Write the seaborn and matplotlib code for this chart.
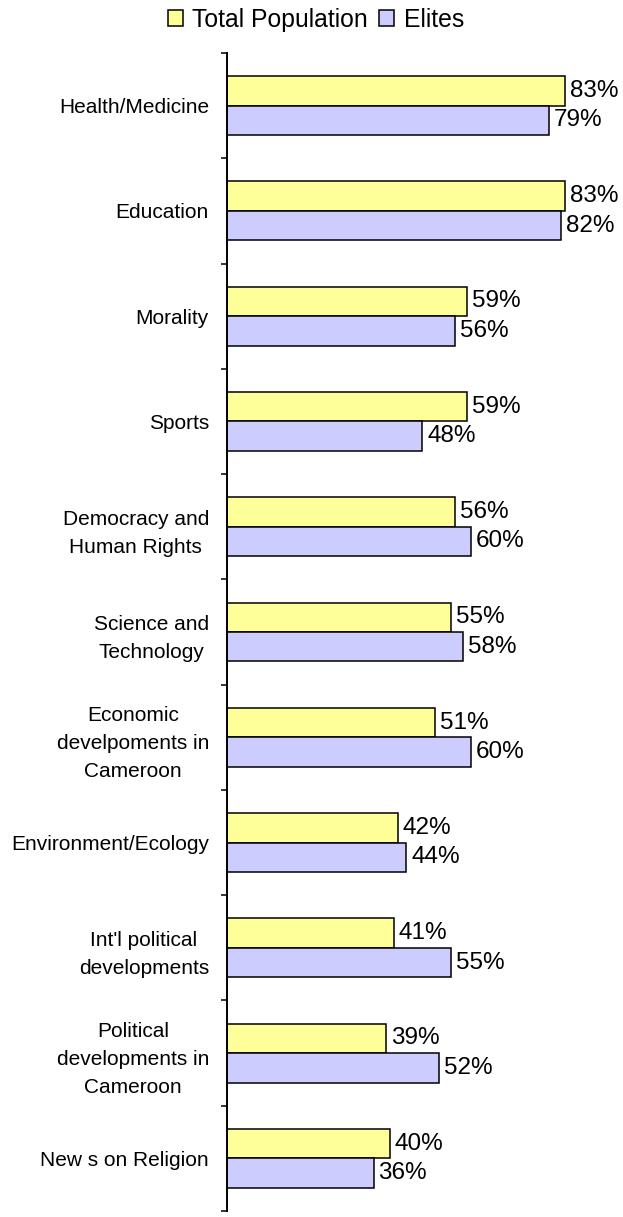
import matplotlib
matplotlib.use("Agg")
import matplotlib.pyplot as plt
import seaborn as sns
import pandas as pd
import numpy as np

categories = ["Health/Medicine", "Education", "Morality", "Sports",
              "Democracy and\nHuman Rights", "Science and\nTechnology",
              "Economic\ndevelpoments in\nCameroon", "Environment/Ecology",
              "Int'l political\ndevelopments", "Political\ndevelopments in\nCameroon",
              "New s on Religion"]
total_population = [83, 83, 59, 59, 56, 55, 51, 42, 41, 39, 40]
elites = [79, 82, 56, 48, 60, 58, 60, 44, 55, 52, 36]
series = ["Total Population", "Elites"]
colors = ["#FFFF99", "#CCCCFF"]

df = pd.DataFrame({
    "category": categories * 2,
    "value": total_population + elites,
    "series": [series[0]] * len(categories) + [series[1]] * len(categories),
})

sns.set_style("white")
plt.rcParams["font.family"] = ["Liberation Sans", "DejaVu Sans"]
plt.rcParams["text.color"] = "black"
plt.rcParams["axes.labelcolor"] = "black"
plt.rcParams["ytick.color"] = "black"

fig = plt.figure(figsize=(6.23, 12.17), dpi=100)
top_px, bot_px, left_px, right_px = 53, 1211, 227, 593.5
ax = fig.add_axes([left_px / 623, 1 - bot_px / 1217,
                   (right_px - left_px) / 623, (bot_px - top_px) / 1217])

sns.barplot(data=df, y="category", x="value", hue="series", orient="h",
            palette=colors, width=0.56, edgecolor="black", linewidth=1.1,
            ax=ax, order=categories, hue_order=series, saturation=1)

for c in ax.containers:
    ax.bar_label(c, labels=[f"{int(round(v))}%" for v in c.datavalues],
                 padding=3.5, fontsize=17.5, color="black")

ax.set_xlim(0, 90)
ax.set_ylim(len(categories) - 0.5, -0.5)
ax.set_xlabel("")
ax.set_ylabel("")
ax.set_xticks([])
for s in ["top", "right", "bottom"]:
    ax.spines[s].set_visible(False)
ax.spines["left"].set_color("black")
ax.spines["left"].set_linewidth(1.4)

ax.tick_params(axis="y", which="major", length=0, pad=13, labelsize=15,
               labelcolor="black")
ax.set_yticks(np.arange(-0.5, len(categories) + 0.5, 1), minor=True)
ax.tick_params(axis="y", which="minor", length=4.5, width=1.1, color="black", left=True)
for lbl in ax.get_yticklabels():
    lbl.set_multialignment("center")
    lbl.set_linespacing(1.6)

leg = ax.legend(loc="center", bbox_to_anchor=((316 - left_px) / (right_px - left_px),
                                              1.0 + (top_px - 20) / (bot_px - top_px)),
                ncol=2, frameon=False, fontsize=17.8, handlelength=0.6,
                handleheight=0.6, handletextpad=0.4, columnspacing=0.45,
                borderaxespad=0)
for h in leg.legend_handles:
    h.set_edgecolor("black")
    h.set_linewidth(1.1)

fig.savefig("out.png", dpi=100)
